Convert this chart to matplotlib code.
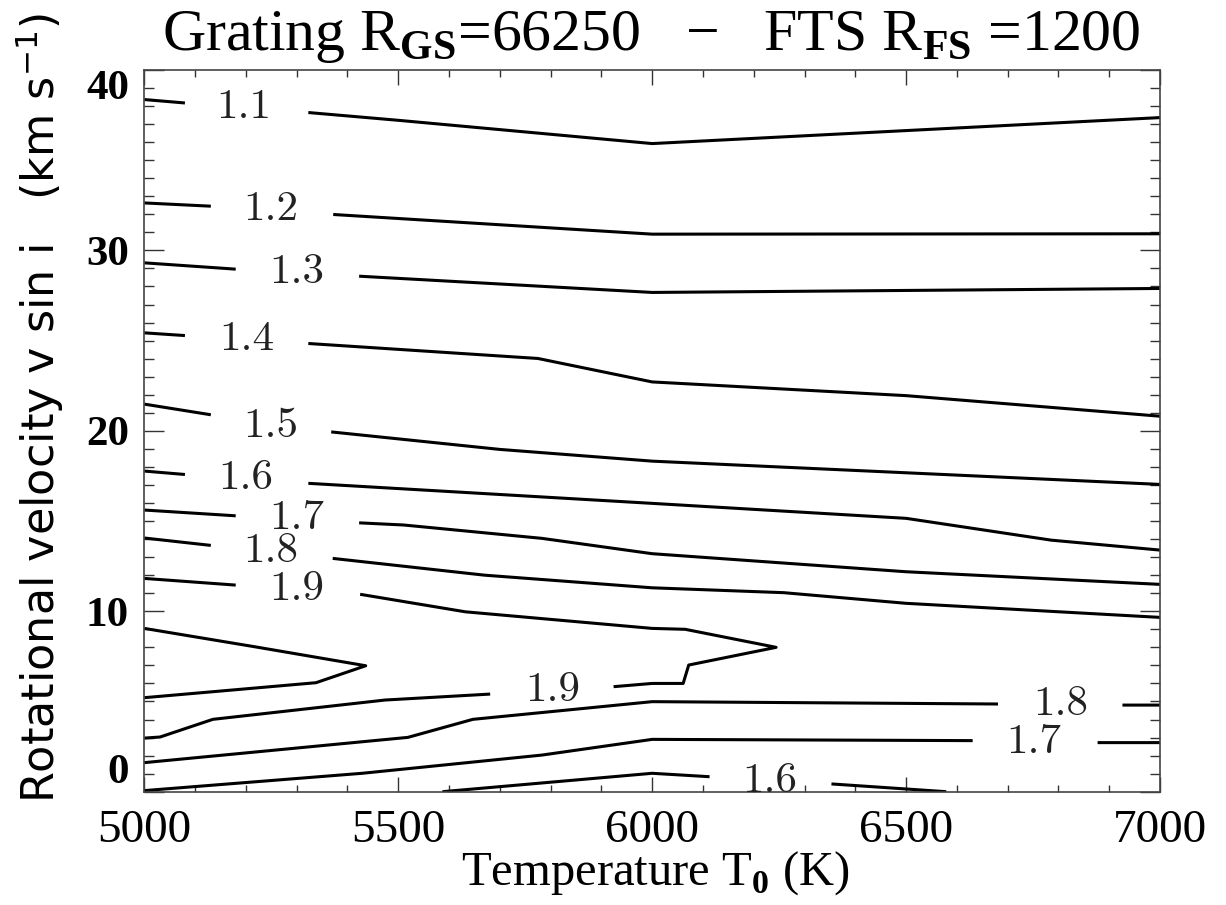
import numpy as np
import matplotlib
matplotlib.use("Agg")
import matplotlib.pyplot as plt
from matplotlib.ticker import MultipleLocator

nan = np.nan

# contour lines: temperature (K) and v sin i (km/s),
# nan marks the gap left for a label
t_11 = [5000, 5080, nan, 5323, 5500, 6000, 7000]
v_11 = [38.36, 38.17, nan, 37.64, 37.21, 35.92, 37.36]
t_12 = [5000, 5131, nan, 5372, 6000, 7000]
v_12 = [32.63, 32.45, nan, 31.99, 30.90, 30.92]
t_13 = [5000, 5180, nan, 5423, 6000, 7000]
v_13 = [29.31, 28.96, nan, 28.57, 27.67, 27.89]
t_14 = [5000, 5080, nan, 5323, 5775, 6000, 6500, 7000]
v_14 = [25.43, 25.28, nan, 24.84, 24.01, 22.71, 21.95, 20.81]
t_15 = [5000, 5131, nan, 5368, 5700, 6000, 7000]
v_15 = [21.48, 20.89, nan, 19.94, 18.97, 18.32, 17.03]
t_16 = [5000, 5080, nan, 5323, 6000, 6500, 6786, 7000]
v_16 = [17.77, 17.58, nan, 17.09, 15.98, 15.15, 13.94, 13.39]
t_17 = [5000, 5180, nan, 5423, 5511, 5783, 6000, 6500, 7000]
v_17 = [15.61, 15.29, nan, 14.90, 14.78, 14.04, 13.19, 12.19, 11.49]
t_18 = [5000, 5131, nan, 5371, 5670, 6000, 6259, 6500, 7000]
v_18 = [14.06, 13.65, nan, 12.93, 12.00, 11.30, 11.03, 10.44, 9.66]
t_19 = [5000, 5180, nan, 5425, 5632, 6000, 6065, 6244, 6072, 6061, 6000, 5924,
        nan, 5681, 5474, 5135, 5031, 5000]
v_19 = [11.82, 11.45, nan, 10.94, 9.97, 9.05, 9.00, 8.00, 7.02, 6.00, 6.00, 5.82,
        nan, 5.41, 5.08, 4.01, 3.03, 2.97]
t_19_lobe = [5000, 5218, 5436, 5338, 5000]
v_19_lobe = [9.05, 8.03, 6.98, 6.04, 5.21]
t_18_low = [5000, 5519, 5647, 6000, 6681, nan, 6926, 7000]
v_18_low = [1.61, 3.01, 4.01, 4.99, 4.86, nan, 4.80, 4.80]
t_17_low = [5000, 5429, 5783, 6000, 6631, nan, 6877, 7000]
v_17_low = [0.06, 1.02, 2.03, 2.90, 2.83, nan, 2.72, 2.72]
t_16_low = [5587, 6000, 6113, nan, 6353, 6579]
v_16_low = [0.0, 1.02, 0.83, nan, 0.43, 0.0]

label_text = ["1.1", "1.2", "1.3", "1.4", "1.5", "1.6", "1.7", "1.8", "1.9",
              "1.9", "1.8", "1.7", "1.6"]
label_t = [5196, 5249, 5301, 5202, 5249, 5200, 5301, 5249, 5301,
           5804, 6805, 6752, 6232]
label_v = [38.16, 32.50, 29.00, 25.30, 20.48, 17.58, 15.39, 13.56, 11.45,
           5.86, 5.08, 2.97, 0.81]

x_ticks = [5000, 5500, 6000, 6500, 7000]
y_ticks = [0, 10, 20, 30, 40]

lines = [
    (t_11, v_11), (t_12, v_12), (t_13, v_13), (t_14, v_14), (t_15, v_15),
    (t_16, v_16), (t_17, v_17), (t_18, v_18), (t_19, v_19),
    (t_19_lobe, v_19_lobe), (t_18_low, v_18_low), (t_17_low, v_17_low),
    (t_16_low, v_16_low),
]

plt.rcParams["mathtext.fontset"] = "custom"
plt.rcParams["mathtext.rm"] = "Liberation Serif"
plt.rcParams["mathtext.bf"] = "Liberation Serif:bold"

fig = plt.figure(figsize=(12.26, 9.05), dpi=100)
ax = fig.add_axes([0.1177, 0.1252, 0.8285, 0.7975])

for t, v in lines:
    ax.plot(t, v, color="black", lw=2.2, solid_capstyle="butt")

for s, t, v in zip(label_text, label_t, label_v):
    ax.text(t, v, s, family="cmr10", fontsize=31, color="#222222",
            ha="center", va="center_baseline")

ax.set_xticks(x_ticks)
ax.set_yticks(y_ticks)
ax.set_xlim(5000, 7000)
ax.set_ylim(0, 40)
ax.xaxis.set_minor_locator(MultipleLocator(100))
ax.yaxis.set_minor_locator(MultipleLocator(1))
ax.tick_params(which="both", direction="in", top=True, right=True,
               color="#333333", width=1.0)
ax.tick_params(axis="x", which="major", length=10.8, pad=13)
ax.tick_params(axis="x", which="minor", length=5)
ax.tick_params(axis="y", which="major", length=14.4, pad=11)
ax.tick_params(axis="y", which="minor", length=7.2)
for sp in ax.spines.values():
    sp.set_linewidth(1.2)
    sp.set_color("#444444")

for lbl in ax.get_xticklabels():
    lbl.set_family("Liberation Serif")
    lbl.set_fontsize(34)
for lbl in ax.get_yticklabels():
    lbl.set_family("Liberation Serif")
    lbl.set_fontweight("bold")
    lbl.set_fontsize(31)
yt = ax.yaxis.get_major_ticks()
yt[0].label1.set_va("bottom")
yt[-1].label1.set_va("top")

fig.text(651 / 1226, 1 - 37 / 905,
         r"Grating R$_{\mathbf{GS}}$=66250   $-$   FTS R$_{\mathbf{FS}}$ =1200",
         family="Liberation Serif", fontsize=43, ha="center", va="center")
fig.text(655 / 1226, 1 - 873 / 905, r"Temperature T$_{\mathbf{0}}$ (K)",
         family="Liberation Serif", fontsize=35, ha="center", va="center")
fig.text(40 / 1226, 1 - 408 / 905,
         r"Rotational velocity v sin i   (km s$^{-1}$)",
         family="DejaVu Sans", math_fontfamily="dejavusans", fontsize=32,
         rotation=90, ha="center", va="center")

fig.savefig("out.png", dpi=100)
